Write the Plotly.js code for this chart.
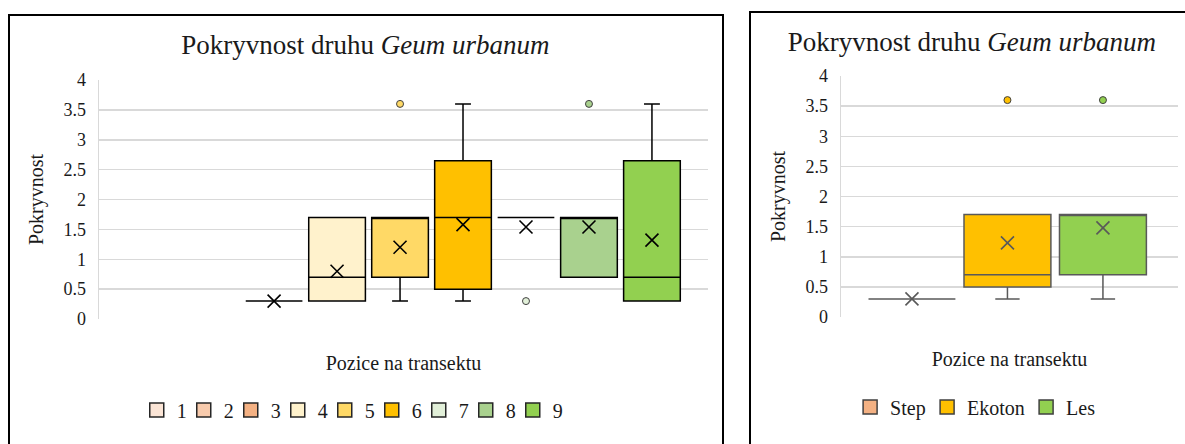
<!DOCTYPE html>
<html>
<head>
<meta charset="utf-8">
<script src="https://cdn.plot.ly/plotly-3.0.1.min.js"></script>
<style>
  html, body { margin: 0; padding: 0; width: 1185px; height: 444px; overflow: hidden; background: #fff; }
  .frame { position: absolute; border: 2px solid #000; box-sizing: border-box; pointer-events: none; }
  .plot { position: absolute; }
</style>
</head>
<body>
<div id="left" class="plot" style="left:10px; top:16px; width:712px; height:428px;"></div>
<div id="right" class="plot" style="left:751px; top:13px; width:434px; height:431px;"></div>
<div class="frame" style="left:8px; top:14px; width:716px; height:440px;"></div>
<div class="frame" style="left:749px; top:11px; width:450px; height:440px;"></div>
<script>
// ---------- Left chart: positions 1..9 ----------
const posNames   = ['1', '2', '3', '4', '5', '6', '7', '8', '9'];
const posColors  = ['#FBE5D6', '#F8CBAD', '#F4B183', '#FFF2CC', '#FFD966', '#FFC000', '#E2F0D9', '#A9D18E', '#92D050'];
const posQ1      = [null, null, 0.3, 0.3, 0.7, 0.5, 1.7, 0.7, 0.3];
const posMedian  = [null, null, 0.3, 0.7, 1.7, 1.7, 1.7, 1.7, 0.7];
const posQ3      = [null, null, 0.3, 1.7, 1.7, 2.65, 1.7, 1.7, 2.65];
const posLower   = [null, null, 0.3, 0.3, 0.3, 0.3, 1.7, 0.7, 0.3];
const posUpper   = [null, null, 0.3, 1.7, 1.7, 3.6, 1.7, 1.7, 3.6];
const posMean    = [null, null, 0.3, 0.8, 1.2, 1.58, 1.54, 1.54, 1.32];
const posOutliers = [[], [], [], [], [3.6], [], [0.3], [3.6], []];

// ---------- Right chart: zones ----------
const zoneNames  = ['Step', 'Ekoton', 'Les'];
const zoneColors = ['#F4B183', '#FFC000', '#92D050'];
const zoneQ1     = [0.3, 0.5, 0.7];
const zoneMedian = [0.3, 0.7, 1.7];
const zoneQ3     = [0.3, 1.7, 1.7];
const zoneLower  = [0.3, 0.3, 0.3];
const zoneUpper  = [0.3, 1.7, 1.7];
const zoneMean   = [0.3, 1.23, 1.48];
const zoneOutliers = [[], [3.6], [3.6]];

const titleText = 'Pokryvnost druhu <i>Geum urbanum</i>';
const yTitle = 'Pokryvnost';
const xTitle = 'Pozice na transektu';
const yTickVals = [0, 0.5, 1, 1.5, 2, 2.5, 3, 3.5, 4];

const FONT = 'Liberation Serif, Times New Roman, serif';
const TXT = '#1a1a1a';

function buildTraces(names, colors, q1, med, q3, lo, up, mean, outl, lineColor, boxWidth, legendLine, legendWidths) {
  const traces = [];
  names.forEach((n, i) => {
    const x = i + 1;
    if (q1[i] !== null) {
      traces.push({
        type: 'box', name: n, showlegend: false,
        x: [x],
        q1: [q1[i]], median: [med[i]], q3: [q3[i]],
        lowerfence: [lo[i]], upperfence: [up[i]],
        width: boxWidth, whiskerwidth: 0.28,
        fillcolor: colors[i],
        line: { color: lineColor, width: 1.5 },
        boxpoints: false, hoverinfo: 'skip'
      });
    }
  });
  // legend entries (square swatches, no data points)
  names.forEach((n, i) => {
    traces.push({
      type: 'scatter', mode: 'markers', name: n, x: [null], y: [null], hoverinfo: 'skip',
      legendwidth: legendWidths[i],
      marker: { symbol: 'square', size: 14, color: colors[i], line: { color: legendLine, width: 1.5 } }
    });
  });
  // mean X markers
  const mx = [], my = [];
  mean.forEach((m, i) => { if (m !== null) { mx.push(i + 1); my.push(m); } });
  traces.push({
    type: 'scatter', mode: 'markers', x: mx, y: my, showlegend: false, hoverinfo: 'skip',
    marker: { symbol: 'x-thin', size: 13, line: { color: lineColor, width: 1.6 } }
  });
  // outliers
  const ox = [], oy = [], oc = [];
  outl.forEach((arr, i) => arr.forEach(v => { ox.push(i + 1); oy.push(v); oc.push(colors[i]); }));
  traces.push({
    type: 'scatter', mode: 'markers', x: ox, y: oy, showlegend: false, hoverinfo: 'skip',
    marker: { symbol: 'circle', size: 7, color: oc, line: { color: '#404040', width: 1 } }
  });
  return traces;
}

function buildLayout(w, h, margin, xrange, titleX, titleY, legendX, legendY, xStandoff) {
  return {
    width: w, height: h,
    margin: margin,
    paper_bgcolor: 'rgba(0,0,0,0)', plot_bgcolor: '#fff',
    font: { family: FONT, color: TXT, size: 18 },
    title: { text: titleText, font: { family: FONT, size: 27, color: TXT },
             x: titleX, xref: 'container', xanchor: 'center',
             y: titleY, yref: 'container', yanchor: 'middle' },
    boxmode: 'overlay',
    showlegend: true,
    legend: { orientation: 'h', x: legendX, xanchor: 'left', y: legendY, yanchor: 'middle',
              font: { family: FONT, size: 20, color: TXT },
              bgcolor: 'rgba(0,0,0,0)' },
    xaxis: { range: xrange, showticklabels: false, showgrid: false, zeroline: false, showline: false,
             ticks: '', fixedrange: true,
             title: { text: xTitle, font: { family: FONT, size: 20, color: TXT }, standoff: xStandoff } },
    yaxis: { range: [0, 4], tickvals: yTickVals, ticktext: yTickVals.map(String),
             showgrid: true, gridcolor: '#D9D9D9', gridwidth: 1.5,
             zeroline: false, showline: true, linecolor: '#D9D9D9', linewidth: 1.5,
             ticks: '', ticklabelstandoff: 8,
             tickfont: { family: FONT, size: 18, color: TXT },
             title: { text: yTitle, font: { family: FONT, size: 20, color: TXT }, standoff: 14 } }
  };
}

const leftTraces = buildTraces(posNames, posColors, posQ1, posMedian, posQ3, posLower, posUpper,
                               posMean, posOutliers, '#000000', 0.9, '#262626',
                               [2, 2, 2, 2, 2, 2, 2, 2, 14]);
const leftLayout = buildLayout(712, 428, { l: 89, r: 14, t: 64, b: 125, pad: 0 },
                               [0.22, 9.89], 0.499, 1 - 29 / 428, 0.062, -0.381, 36);
Plotly.newPlot('left', leftTraces, leftLayout, { staticPlot: true });

const rightTraces = buildTraces(zoneNames, zoneColors, zoneQ1, zoneMedian, zoneQ3, zoneLower, zoneUpper,
                                zoneMean, zoneOutliers, '#595959', 0.91, '#404040',
                                [32, 54, 40]);
const rightLayout = buildLayout(434, 431, { l: 90, r: 7, t: 63, b: 127, pad: 0 },
                                [0.257, 3.786], 0.509, 1 - 28.5 / 431, 0.027, -0.373, 34);
Plotly.newPlot('right', rightTraces, rightLayout, { staticPlot: true });
</script>
</body>
</html>
